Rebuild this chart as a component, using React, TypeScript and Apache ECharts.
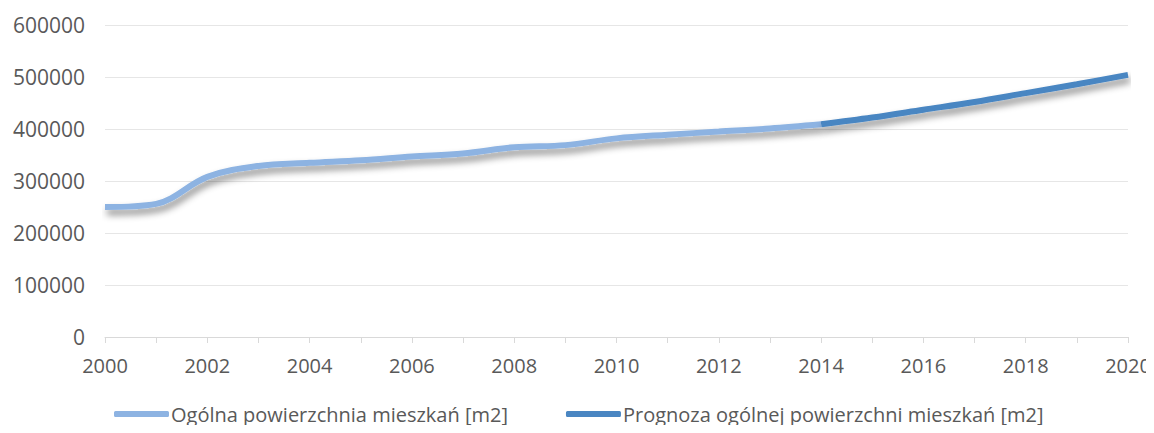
import React, { useEffect, useRef } from "react";
import * as echarts from "echarts";

const years: number[] = [2000, 2001, 2002, 2003, 2004, 2005, 2006, 2007, 2008, 2009, 2010, 2011, 2012, 2013, 2014];
const actualValues: number[] = [250000, 256000, 308000, 329000, 335000, 340000, 347000, 353000, 365000, 369000, 382000, 389000, 395000, 401000, 409000];
const forecastYears: number[] = [2014, 2015, 2016, 2017, 2018, 2019, 2020];
const forecastValues: number[] = [409000, 422000, 437000, 452000, 469000, 486000, 504000];
const seriesNames: string[] = ["Ogólna powierzchnia mieszkań [m2]", "Prognoza ogólnej powierzchni mieszkań [m2]"];

const FONT = "'Open Sans', 'Noto Sans', sans-serif";

export default function App() {
  const ref = useRef<HTMLDivElement>(null);
  useEffect(() => {
    if (!ref.current) return;
    const chart = echarts.init(ref.current, undefined, { renderer: "svg" });
    const shadow = {
      shadowColor: "rgba(0,0,0,0.45)",
      shadowBlur: 7,
      shadowOffsetX: 2,
      shadowOffsetY: 5,
    };
    chart.setOption({
      animation: false,
      backgroundColor: "#ffffff",
      grid: { left: 105, right: 26, top: 25, bottom: 96, containLabel: false },
      legend: {
        left: 109,
        top: 399,
        itemWidth: 55,
        itemHeight: 6,
        itemGap: 58,
        icon: "roundRect",
        textStyle: { color: "#595959", fontFamily: FONT, fontSize: 20, padding: [0, 0, 0, -3] },
        data: seriesNames,
      },
      xAxis: {
        type: "value",
        min: 2000,
        max: 2020,
        interval: 2,
        axisLine: { show: true, lineStyle: { color: "#D9D9D9", width: 1 } },
        axisTick: { show: true, length: 6, lineStyle: { color: "#D9D9D9" } },
        minorTick: { show: true, splitNumber: 2, length: 6, lineStyle: { color: "#D9D9D9" } },
        splitLine: { show: false },
        axisLabel: { color: "#595959", fontFamily: FONT, fontSize: 20, margin: 18, formatter: (v: number) => String(v) },
      },
      yAxis: {
        type: "value",
        min: 0,
        max: 600000,
        interval: 100000,
        axisLine: { show: false },
        axisTick: { show: false },
        splitLine: { lineStyle: { color: "#E6E6E6", width: 1 } },
        axisLabel: { color: "#595959", fontFamily: FONT, fontSize: 21, margin: 20, formatter: (v: number) => String(v) },
      },
      series: [
        {
          name: seriesNames[0],
          type: "line",
          data: years.map((y, i) => [y, actualValues[i]]),
          smooth: 0.35,
          showSymbol: false,
          symbol: "none",
          color: "#8DB3E2",
          lineStyle: { color: "#8DB3E2", width: 6, ...shadow },
          z: 2,
        },
        {
          name: seriesNames[1],
          type: "line",
          data: forecastYears.map((y, i) => [y, forecastValues[i]]),
          smooth: 0.35,
          showSymbol: false,
          symbol: "none",
          color: "#4A86C2",
          lineStyle: { color: "#4A86C2", width: 6, ...shadow },
          z: 3,
        },
      ],
    });
    return () => chart.dispose();
  }, []);
  return <div ref={ref} style={{ width: 1154, height: 433, margin: -8 }} />;
}
